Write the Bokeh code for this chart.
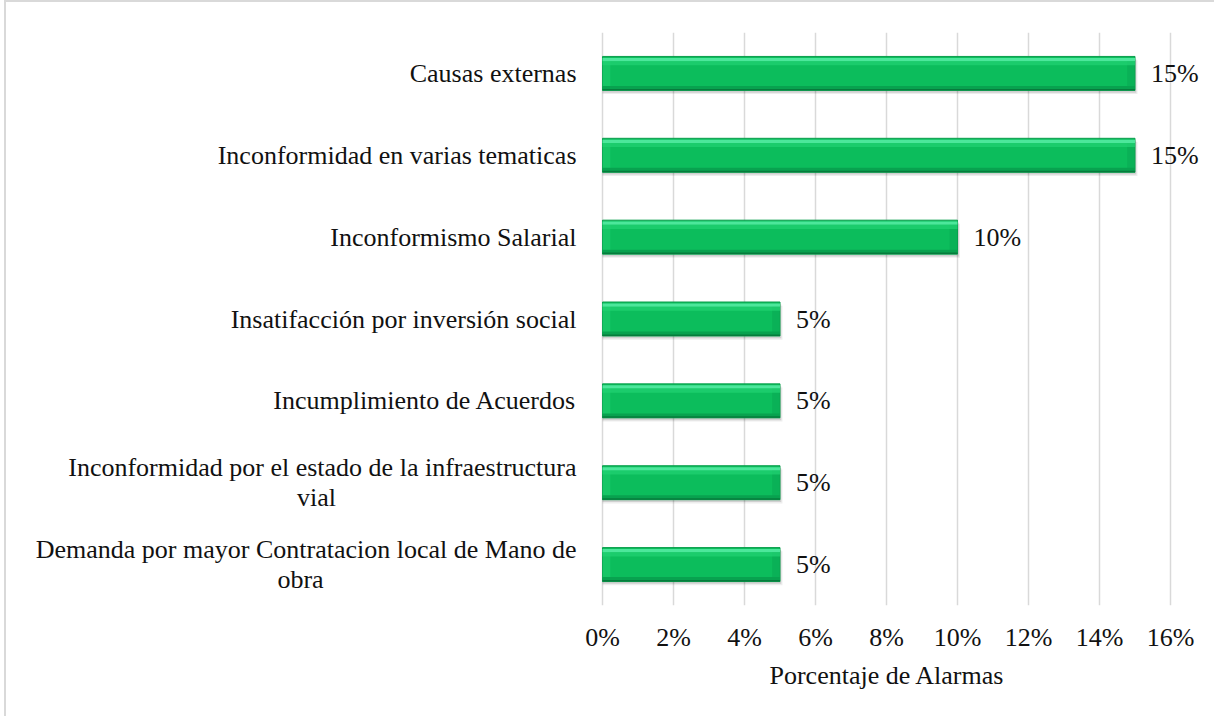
from bokeh.plotting import figure
from bokeh.models import ColumnDataSource, FixedTicker, PrintfTickFormatter, LabelSet, FactorRange, Range1d, Title
from bokeh.transform import dodge
from bokeh.embed import file_html
from bokeh.resources import INLINE
from bokeh.core.properties import value

# ---- data (top to bottom as shown) ----
categories = [
    "Causas externas",
    "Inconformidad en varias tematicas",
    "Inconformismo Salarial",
    "Insatifacción por inversión social",
    "Incumplimiento de Acuerdos",
    "Inconformidad por el estado de la infraestructura vial",
    "Demanda por mayor Contratacion local de Mano de obra",
]
category_lines = [
    ["Causas externas"],
    ["Inconformidad en varias tematicas"],
    ["Inconformismo Salarial"],
    ["Insatifacción por inversión social"],
    ["Incumplimiento de Acuerdos"],
    ["Inconformidad por el estado de la infraestructura", "vial"],
    ["Demanda por mayor Contratacion local de Mano de", "obra"],
]
percentages = [15, 15, 10, 5, 5, 5, 5]
x_ticks = [0, 2, 4, 6, 8, 10, 12, 14, 16]
x_axis_title = "Porcentaje de Alarmas"

FONT = "Liberation Serif"
FSIZE = "26px"
TXT = "#111111"

# ---- layout (pixels) ----
W, H = 1210, 716
FRAME_L, FRAME_R = 596, 1164      # where 0% and 16% fall on the canvas
TOP, BOTTOM = 30, 113
x_min, x_max = x_ticks[0], x_ticks[-1]
ppu = (FRAME_R - FRAME_L) / (x_max - x_min)
x_start = x_min - FRAME_L / ppu
x_end = x_max + (W - FRAME_R) / ppu

source = ColumnDataSource(dict(
    cat=categories,
    pct=percentages,
    label=[f"{v}%" for v in percentages],
))

p = figure(
    width=W, height=H,
    y_range=FactorRange(factors=categories[::-1]),
    x_range=Range1d(x_start, x_end),
    output_backend="svg", toolbar_location=None,
    min_border_left=0, min_border_right=0,
    min_border_top=TOP, min_border_bottom=BOTTOM,
)
p.styles = {"border-left": "2px solid #d9d9d9", "border-top": "2px solid #d9d9d9",
            "margin-left": "4px"}
p.outline_line_color = None
p.background_fill_color = "white"
p.border_fill_color = "white"

# grid
p.ygrid.visible = False
p.xgrid.grid_line_color = "#d9d9d9"
p.xgrid.grid_line_width = 1.5
p.xgrid.ticker = FixedTicker(ticks=x_ticks)

# axes
p.yaxis.visible = False
xa = p.xaxis[0]
xa.ticker = FixedTicker(ticks=x_ticks)
xa.formatter = PrintfTickFormatter(format="%d%%")
xa.axis_line_color = None
xa.major_tick_line_color = None
xa.minor_tick_line_color = None
xa.major_tick_out = 0
xa.major_tick_in = 0
xa.major_label_text_font = FONT
xa.major_label_text_font_size = FSIZE
xa.major_label_text_color = TXT
xa.major_label_standoff = 17

# axis title, centred under the 0%..16% span (left-aligned with pixel offset)
TITLE_W = 234
title_offset = (FRAME_L + FRAME_R) / 2 - TITLE_W / 2
p.add_layout(Title(text=x_axis_title, align="left", offset=title_offset,
                   text_font=FONT, text_font_size=FSIZE, text_font_style="normal",
                   text_color=TXT, standoff=8), "below")

BAR_H = 0.415

# soft shadow
p.hbar(y=dodge("cat", -0.045, range=p.y_range), left=0, right=dodge("pct", 0.07),
       height=BAR_H, source=source, fill_color="#000000", fill_alpha=0.07, line_color=None)
p.hbar(y=dodge("cat", -0.028, range=p.y_range), left=0, right=dodge("pct", 0.035),
       height=BAR_H, source=source, fill_color="#000000", fill_alpha=0.12, line_color=None)
# main bar
p.hbar(y="cat", left=0, right="pct", height=BAR_H, source=source,
       fill_color="#0cbd5c", line_color="#0a9e4d", line_width=1)
# bevelled ends
p.hbar(y="cat", left=dodge("pct", -0.22), right="pct", height=BAR_H * 0.78, source=source,
       fill_color="#0aa954", fill_alpha=0.6, line_color=None)
p.hbar(y="cat", left=0, right=0.22, height=BAR_H * 0.78, source=source,
       fill_color="#1fcb6c", fill_alpha=0.6, line_color=None)
# upper gloss
p.hbar(y=dodge("cat", 0.17, range=p.y_range), left=0, right="pct", height=0.04,
       source=source, fill_color="#4ce79b", line_color=None)
p.hbar(y=dodge("cat", 0.125, range=p.y_range), left=0, right="pct", height=0.05,
       source=source, fill_color="#22d373", fill_alpha=0.7, line_color=None)
# lower darker band
p.hbar(y=dodge("cat", -0.178, range=p.y_range), left=0, right="pct", height=0.05,
       source=source, fill_color="#08a24f", line_color=None)
p.hbar(y=dodge("cat", -0.198, range=p.y_range), left=0, right="pct", height=0.018,
       source=source, fill_color="#067c3c", line_color=None)

# value labels
p.add_layout(LabelSet(
    x="pct", y="cat", text="label", source=source, x_offset=16,
    text_baseline="middle", text_align="left",
    text_font=value(FONT), text_font_size=value(FSIZE), text_color=TXT,
))

# category labels (left of the 0% line); wrapped ones get a centred 2nd line
LINE_GAP = 15
second_line_center = {5: -286, 6: -302}
first = dict(cat=[], text=[], x=[], yoff=[])
second = dict(cat=[], text=[], x=[], xoff=[], yoff=[])
for i, lines in enumerate(category_lines):
    first["cat"].append(categories[i])
    first["text"].append(lines[0])
    first["x"].append(x_min)
    first["yoff"].append(LINE_GAP if len(lines) > 1 else 0)
    if len(lines) > 1:
        second["cat"].append(categories[i])
        second["text"].append(lines[1])
        second["x"].append(x_min)
        second["xoff"].append(second_line_center[i])
        second["yoff"].append(-LINE_GAP)

p.add_layout(LabelSet(
    x="x", y="cat", text="text", source=ColumnDataSource(first), x_offset=-26, y_offset="yoff",
    text_baseline="middle", text_align="right",
    text_font=value(FONT), text_font_size=value(FSIZE), text_color=TXT,
))
p.add_layout(LabelSet(
    x="x", y="cat", text="text", source=ColumnDataSource(second), x_offset="xoff", y_offset="yoff",
    text_baseline="middle", text_align="center",
    text_font=value(FONT), text_font_size=value(FSIZE), text_color=TXT,
))

open("out.html", "w").write(file_html(p, INLINE))
